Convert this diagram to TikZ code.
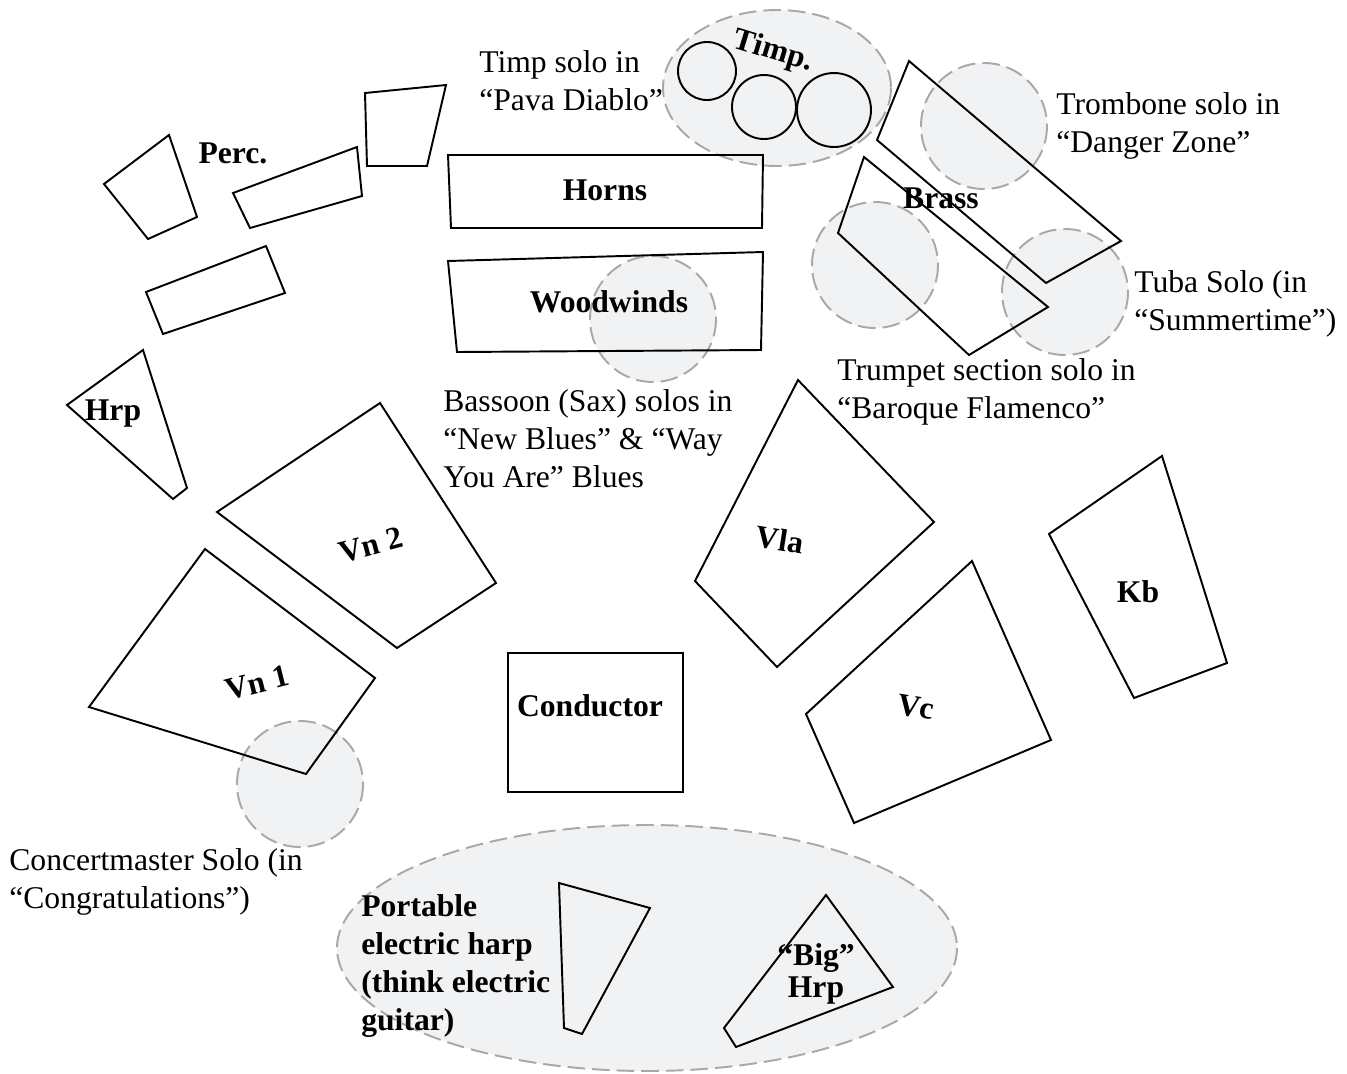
\documentclass[tikz,border=0pt]{standalone}
\usepackage{fontspec}
\setmainfont{Liberation Serif}
\definecolor{solofill}{RGB}{241,242,244}
\definecolor{soloedge}{RGB}{168,168,168}
\tikzset{section/.style={ % Sets the properties for each instrument group
draw,
line width=1.1pt},
solo/.style={ % Area where a soloist stands
fill=solofill,
draw=soloedge,
line width=1.1pt,
dash pattern=on 10pt off 4pt},
group/.style={font=\fontsize{18}{21.5}\selectfont\bfseries}, % Names on the plan
note/.style={ % Remarks on the solos, placed at the baseline of the last line
font=\fontsize{18}{21.5}\selectfont,
align=left,
anchor=base west,
inner sep=0pt}}

\begin{document}
\begin{tikzpicture}[x=0.02cm,y=-0.02cm]
  \useasboundingbox (0,0) rectangle (1347,1073);
  % solo areas
  \draw[solo] (777,88) ellipse [x radius=114, y radius=78];
  \draw[solo] (984,126) circle [radius=63];
  \draw[solo] (875,265) circle [radius=63];
  \draw[solo] (1065,292) circle [radius=63];
  \draw[solo] (653,319) circle [radius=63];
  \draw[solo] (300,784) circle [radius=63];
  \draw[solo] (647,948) ellipse [x radius=310, y radius=123];
  % percussion and harp
  \draw[section] (104,184) -- (169,135) -- (197,217) -- (148,239) -- cycle;
  \draw[section] (233,193) -- (357,147) -- (362,196) -- (250,228) -- cycle;
  \draw[section] (365,93) -- (446,85) -- (427,166) -- (367,166) -- cycle;
  \draw[section] (146,292) -- (266,246) -- (285,293) -- (163,334) -- cycle;
  \draw[section] (67,405) -- (143,350) -- (187,488) -- (173,499) -- cycle;
  % winds, timpani and brass
  \draw[section] (448,155) -- (763,155) -- (762,228) -- (451,228) -- cycle;
  \draw[section] (448,261) -- (763,252) -- (761,350) -- (457,352) -- cycle;
  \draw[section] (707,71) circle [radius=29];
  \draw[section] (764,107) circle [radius=32];
  \draw[section] (834,110) circle [radius=37];
  \draw[section] (909,61) -- (1121,241) -- (1046,283) -- (877,140) -- cycle;
  \draw[section] (864,157) -- (1048,307) -- (969,355) -- (838,233) -- cycle;
  % strings
  \draw[section] (217,512) -- (380,403) -- (496,583) -- (397,648) -- cycle;
  \draw[section] (205,549) -- (375,678) -- (306,774) -- (89,707) -- cycle;
  \draw[section] (798,380) -- (934,522) -- (777,667) -- (695,581) -- cycle;
  \draw[section] (972,561) -- (1051,740) -- (854,823) -- (806,714) -- cycle;
  \draw[section] (1162,456) -- (1227,663) -- (1134,698) -- (1049,534) -- cycle;
  \draw[section] (508,653) rectangle (683,792);
  % harps in front
  \draw[section] (559,883) -- (650,908) -- (582,1034) -- (564,1028) -- cycle;
  \draw[section] (826,895) -- (893,987) -- (736,1047) -- (724,1028) -- cycle;

  \node[group,anchor=base]   (perc)  at (233,163) {Perc.};
  \node[group,anchor=base]   (hrp)   at (113,420) {Hrp};
  \node[group,anchor=base]   (horns) at (605,200) {Horns};
  \node[group,anchor=base]   (wood)  at (609,312) {Woodwinds};
  \node[group,rotate=-17]    (timp)  at (773,52)  {Timp.};
  \node[group,anchor=base]   (brass) at (941,208) {Brass};
  \node[group,rotate=15]     (vn2)   at (371,545) {Vn 2};
  \node[group,rotate=14]     (vn1)   at (257,683) {Vn 1};
  \node[group,anchor=base]   (cond)  at (590,716) {Conductor};
  \node[group,rotate=-9]     (vla)   at (780,540) {Vla};
  \node[group,rotate=-9]     (vc)    at (916,707) {Vc};
  \node[group,anchor=base]   (kb)    at (1138,602) {Kb};
  \node[group,align=center,anchor=base,font=\fontsize{18}{18}\selectfont\bfseries]
                             (bighrp) at (816,997) {“Big”\\Hrp};
  \node[note,group]          (ehrp)  at (361,1030) {Portable\\electric harp\\(think electric\\guitar)};

  \node[note] (timpsolo)  at (479,110)  {Timp solo in\\“Pava Diablo”};
  \node[note] (trbsolo)   at (1056,152) {Trombone solo in\\“Danger Zone”};
  \node[note] (tubasolo)  at (1134,330) {Tuba Solo (in\\“Summertime”)};
  \node[note] (tptsolo)   at (837,418)  {Trumpet section solo in\\“Baroque Flamenco”};
  \node[note] (bsnsolo)   at (443,487)  {Bassoon (Sax) solos in\\“New Blues” \& “Way\\You Are” Blues};
  \node[note] (cmsolo)    at (9,908)    {Concertmaster Solo (in\\“Congratulations”)};
\end{tikzpicture}
\end{document}
